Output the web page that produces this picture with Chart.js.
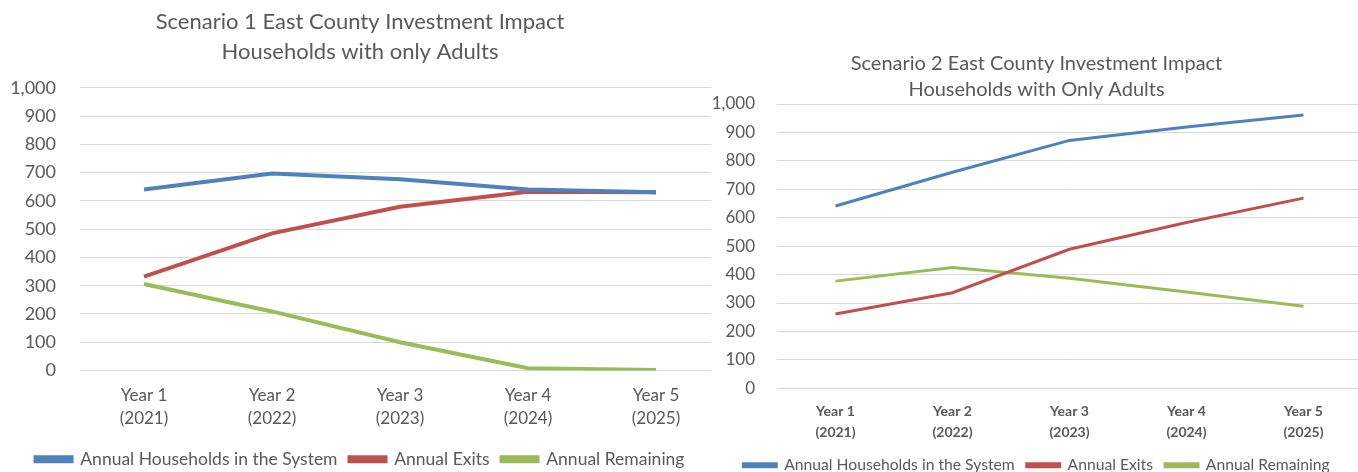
<!DOCTYPE html>
<html>
<head>
<meta charset="utf-8">
<script src="https://cdn.jsdelivr.net/npm/chart.js@4.4.0/dist/chart.umd.min.js"></script>
<style>
  html, body { margin: 0; padding: 0; background: #fff; overflow: hidden; }
  body { width: 1358px; height: 472px; position: relative; }
  .box { position: absolute; top: 0; background: #fff; }
  #left { left: 0; width: 736px; height: 478px; }
  #right { left: 711px; width: 651px; height: 483px; z-index: 2; }
</style>
</head>
<body>
<div class="box" id="left"><canvas id="chart1"></canvas></div>
<div class="box" id="right"><canvas id="chart2"></canvas></div>
<script>
const years = [['Year 1', '(2021)'], ['Year 2', '(2022)'], ['Year 3', '(2023)'], ['Year 4', '(2024)'], ['Year 5', '(2025)']];
const seriesNames = ['Annual Households in the System', 'Annual Exits', 'Annual Remaining'];
const seriesColors = ['#4F81BD', '#C0504D', '#9BBB59'];

// Scenario 1
const s1Households = [640, 697, 677, 640, 631];
const s1Exits = [332, 485, 579, 632, 631];
const s1Remaining = [306, 209, 100, 8, 2];

// Scenario 2
const s2Households = [641, 760, 872, 919, 961];
const s2Exits = [261, 336, 489, 583, 669];
const s2Remaining = [377, 425, 387, 339, 289];

const yTicks = [0, 100, 200, 300, 400, 500, 600, 700, 800, 900, 1000];

const fontFam = 'Lato, "Open Sans", sans-serif';
const grey = '#595959';

Chart.defaults.font.family = fontFam;
Chart.defaults.color = grey;

function makeChart(id, cfg) {
  const sets = cfg.values.map((v, i) => ({
    label: seriesNames[i],
    data: v,
    borderColor: seriesColors[i],
    backgroundColor: seriesColors[i],
    borderWidth: cfg.lineWidth,
    pointRadius: 0,
    tension: 0
  }));
  return new Chart(document.getElementById(id), {
    type: 'line',
    data: { labels: years, datasets: sets },
    options: {
      responsive: true,
      maintainAspectRatio: false,
      animation: false,
      layout: { padding: cfg.padding },
      plugins: {
        title: {
          display: true,
          text: cfg.title,
          color: grey,
          font: { size: cfg.titleSize, weight: 'normal', lineHeight: cfg.titleLine },
          padding: cfg.titlePad
        },
        legend: {
          position: 'bottom',
          labels: {
            boxWidth: cfg.legendBox,
            boxHeight: cfg.legendBoxH,
            padding: 12,
            color: grey,
            font: { size: cfg.legendSize }
          }
        },
        tooltip: { enabled: false }
      },
      scales: {
        x: {
          offset: true,
          grid: { display: false },
          border: { display: false },
          ticks: {
            color: grey,
            maxRotation: 0,
            padding: cfg.xPad,
            font: { size: cfg.xSize, weight: cfg.xWeight, lineHeight: cfg.xLine }
          },
          afterFit: (s) => { s.height = cfg.xHeight; }
        },
        y: {
          min: 0,
          max: 1000,
          afterBuildTicks: (s) => { s.ticks = yTicks.map(v => ({ value: v })); },
          grid: { color: '#D9D9D9', lineWidth: 1, drawTicks: false },
          border: { display: false },
          ticks: {
            color: grey,
            padding: cfg.yPad,
            font: { size: cfg.ySize },
            callback: (v) => v.toLocaleString('en-US')
          },
          afterFit: (s) => { s.width = cfg.yWidth; }
        }
      }
    }
  });
}

makeChart('chart1', {
  values: [s1Households, s1Exits, s1Remaining],
  title: ['Scenario 1 East County Investment Impact', 'Households with only Adults'],
  titleSize: 22, titleLine: 1.36, titlePad: { top: 7, bottom: 21 },
  lineWidth: 4,
  padding: { left: 0, right: 16, top: 0, bottom: 0 },
  yWidth: 80, yPad: 24, ySize: 18,
  xHeight: 68, xPad: 6, xSize: 17, xWeight: 'normal', xLine: 1.35,
  legendBox: 36, legendBoxH: 4, legendSize: 17.5
});

makeChart('chart2', {
  values: [s2Households, s2Exits, s2Remaining],
  title: ['Scenario 2 East County Investment Impact', 'Households with Only Adults'],
  titleSize: 20, titleLine: 1.3, titlePad: { top: 51, bottom: 1 },
  lineWidth: 3,
  padding: { left: 0, right: 0, top: 0, bottom: 0 },
  yWidth: 66, yPad: 22, ySize: 17,
  xHeight: 57, xPad: 4, xSize: 14, xWeight: 'bold', xLine: 1.55,
  legendBox: 33, legendBoxH: 3, legendSize: 15.7
});
</script>
</body>
</html>
